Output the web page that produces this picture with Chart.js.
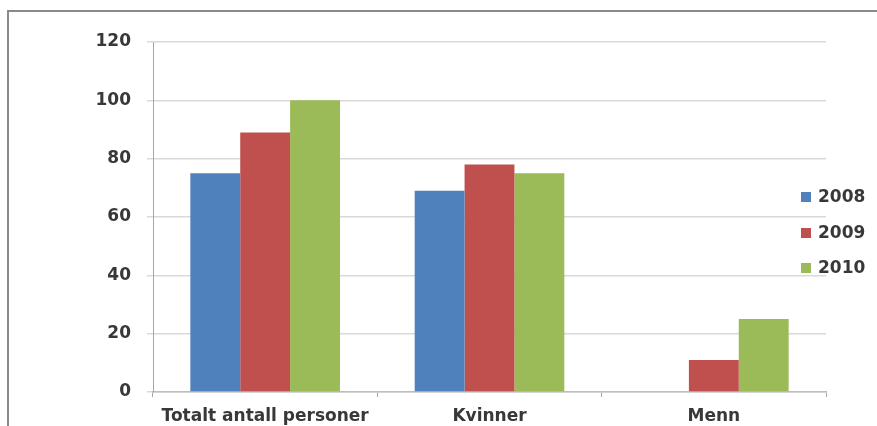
<!DOCTYPE html>
<html>
<head>
<meta charset="utf-8">
<script src="https://cdn.jsdelivr.net/npm/chart.js@4/dist/chart.umd.min.js"></script>
<style>
  html, body { margin: 0; padding: 0; background: #fff; overflow: hidden; }
  #wrap { position: relative; width: 877px; height: 426px; overflow: hidden; }
  #frame { position: absolute; left: 7px; top: 10px; width: 900px; height: 500px; border: 2px solid #8a8a8a; box-sizing: border-box; }
  canvas { position: absolute; left: 0; top: 0; }
</style>
</head>
<body>
<div id="wrap">
  <div id="frame"></div>
  <canvas id="c" width="877" height="426"></canvas>
</div>
<script>
const categories = ["Totalt antall personer", "Kvinner", "Menn"];
const seriesNames = ["2008", "2009", "2010"];
const values2008 = [75, 69, 0];
const values2009 = [89, 78, 11];
const values2010 = [100, 75, 25];
const colors = ["#4F81BD", "#C0504D", "#9BBB59"];

const FONT = { family: "DejaVu Sans", size: 17, weight: "bold" };
const TEXT = "#383838";

const sideLegend = {
  id: "sideLegend",
  afterDraw(chart) {
    const ctx = chart.ctx;
    ctx.save();
    ctx.font = "bold 17px 'DejaVu Sans'";
    ctx.textBaseline = "middle";
    ctx.textAlign = "left";
    const ys = [197, 233, 268];
    chart.data.datasets.forEach((ds, i) => {
      ctx.fillStyle = ds.backgroundColor;
      ctx.fillRect(801, ys[i] - 5, 10, 10);
      ctx.fillStyle = TEXT;
      ctx.fillText(ds.label, 818, ys[i] + 1);
    });
    ctx.restore();
  }
};

new Chart(document.getElementById("c"), {
  type: "bar",
  data: {
    labels: categories,
    datasets: [
      { label: seriesNames[0], data: values2008, backgroundColor: colors[0] },
      { label: seriesNames[1], data: values2009, backgroundColor: colors[1] },
      { label: seriesNames[2], data: values2010, backgroundColor: colors[2] }
    ]
  },
  options: {
    responsive: false,
    animation: false,
    devicePixelRatio: 1,
    layout: { padding: { left: 0, top: 42, right: 51, bottom: 0 } },
    datasets: { bar: { categoryPercentage: 0.667, barPercentage: 1.0 } },
    plugins: { legend: { display: false }, tooltip: { enabled: false } },
    scales: {
      x: {
        grid: { display: true, drawOnChartArea: false, drawTicks: true, tickLength: 5, color: "#a6a6a6", lineWidth: 1, offset: true },
        border: { display: true, color: "#bdbdbd", width: 1.5 },
        ticks: { font: FONT, color: TEXT, padding: 9, maxRotation: 0 },
        afterFit(scale) { scale.height = 34; }
      },
      y: {
        min: 0, max: 120,
        ticks: { stepSize: 20, font: FONT, color: TEXT, padding: 16 },
        grid: { color: "#d9d9d9", lineWidth: 1.5, drawTicks: true, tickLength: 6 },
        border: { display: true, color: "#a6a6a6", width: 1 },
        afterFit(scale) { scale.width = 153; }
      }
    }
  },
  plugins: [sideLegend]
});
</script>
</body>
</html>
